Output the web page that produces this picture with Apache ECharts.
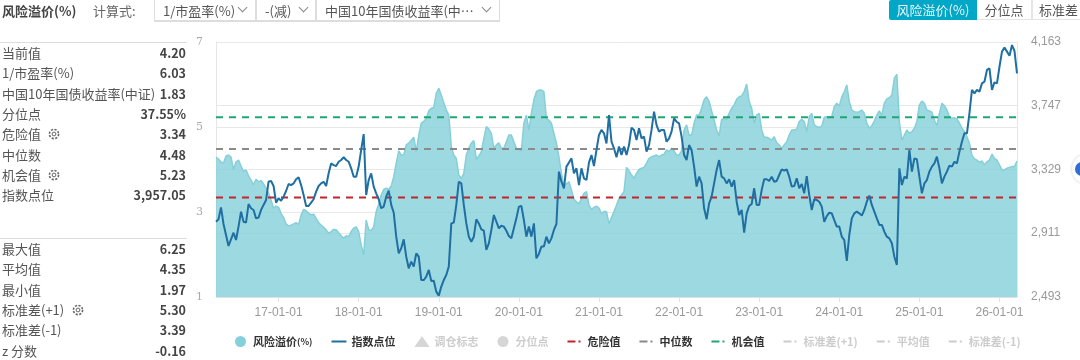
<!DOCTYPE html>
<html lang="zh">
<head>
<meta charset="utf-8">
<title>风险溢价(%)</title>
<script src="https://cdn.jsdelivr.net/npm/echarts@6/dist/echarts.min.js"></script>
<style>
  html, body { margin: 0; padding: 0; background: #fff; }
  body { position: relative; width: 1080px; height: 360px; overflow: hidden;
         font-family: "Noto Sans CJK SC", "Noto Sans", sans-serif; color: #555; }
  #chart { position: absolute; left: 0; top: 0; width: 1080px; height: 360px; }
  .abs { position: absolute; white-space: nowrap; }
  .title { left: 2px; top: 1px; font-size: 13px; line-height: 20px; font-weight: 700; color: #444; }
  .calc { left: 93px; top: 1px; font-size: 13px; line-height: 20px; color: #666; }
  .select { top: -2px; height: 24px; line-height: 24px; box-sizing: border-box; font-size: 13px; color: #555;
            border: 1px solid #ddd; border-top: 0; border-bottom: 2px solid #ddd; padding: 1px 0 0 8px; }
  .select i { position: absolute; top: 6px; width: 6px; height: 6px; border-right: 1px solid #888; border-bottom: 1px solid #888;
              transform: rotate(45deg); }
  .tab { top: 0; height: 20px; line-height: 19px; font-size: 13px; text-align: center; box-sizing: border-box; color: #555;
         border-bottom: 1px solid #e5e5e5; border-right: 1px solid #e5e5e5; }
  .tab.on { background: #00a7c6; color: #eaf8fb; border: 0; border-radius: 2px 0 0 2px; }
  .rule { left: 0; width: 187px; height: 1px; background: #ddd; }
  .row { left: 2px; width: 184px; height: 20px; line-height: 20px; font-size: 13px; color: #555; }
  .row b { position: absolute; right: 0; top: 0; font-weight: 700; color: #444; font-size: 12.5px; }
  .row svg { position: absolute; top: 4px; }
  .float { left: 1072px; top: 154px; width: 30px; height: 30px; border-radius: 50%; background: #fff;
           box-shadow: 0 0 3px #ccc; }
  .float span { position: absolute; left: 3px; top: 8px; width: 14px; height: 14px; border-radius: 50%; background: #2f6fd0; }
</style>
</head>
<body>
<div id="chart"></div>

<div class="abs title">风险溢价(%)</div>
<div class="abs calc">计算式:</div>
<div class="abs select" style="left:154px;width:102px">1/市盈率(%)<i style="left:84px"></i></div>
<div class="abs select" style="left:256px;width:60px">-(减)<i style="left:43px"></i></div>
<div class="abs select" style="left:316px;width:184px">中国10年国债收益率(中…<i style="left:166px"></i></div>
<div class="abs tab on" style="left:889px;width:88px">风险溢价(%)</div>
<div class="abs tab" style="left:977px;width:55px">分位点</div>
<div class="abs tab" style="left:1032px;width:52px;border-left:1px solid #e5e5e5;border-right:0">标准差</div>

<div class="abs rule" style="top:42px"></div>
<div class="abs rule" style="top:238px"></div>
<div id="stats"></div>
<div class="abs float"><span></span></div>

<script>
// x axis: one slot per sampled point, tick labels sit on the slots below
const tickIndex = [25, 57, 89, 121, 153, 185, 217, 249, 281, 313];
const tickLabels = ['17-01-01', '18-01-01', '19-01-01', '20-01-01', '21-01-01', '22-01-01', '23-01-01', '24-01-01', '25-01-01', '26-01-01'];
const leftTicks = [1, 3, 5, 7];
const rightTicks = [2493, 2911, 3329, 3747, 4163];

const premium = [
  4.29,4.24,4.18,4.15,4.32,4.34,4.29,4.00,4.18,4.22,4.08,3.95,3.99,3.85,3.75,3.64,3.77,3.71,3.74,3.66,
  3.56,3.44,3.28,3.09,3.14,3.11,2.97,2.87,2.72,2.67,2.69,2.72,2.75,2.70,2.93,3.06,3.03,2.97,2.93,2.95,
  2.85,2.75,2.69,2.64,2.58,2.50,2.54,2.59,2.58,2.51,2.44,2.38,2.44,2.42,2.54,2.62,2.65,2.54,2.22,1.99,
  2.81,2.59,2.56,2.65,3.01,3.19,3.40,3.53,3.56,3.53,3.61,3.83,4.15,4.44,4.34,4.34,4.58,4.62,4.69,4.76,
  4.42,4.81,5.09,5.13,5.20,5.38,5.44,5.46,5.79,5.91,5.75,5.57,5.40,5.28,4.54,4.34,4.26,3.87,3.79,3.91,
  4.34,4.50,4.62,4.68,4.24,4.32,4.42,4.73,5.01,4.95,4.85,4.50,4.58,4.63,4.50,4.50,4.65,4.81,4.81,4.65,
  4.50,4.47,4.44,5.09,5.28,4.93,5.32,5.64,5.83,5.87,5.87,5.83,5.20,5.16,5.09,4.85,4.62,4.30,3.91,3.60,
  3.67,3.71,3.52,3.30,3.24,3.19,3.32,3.44,3.48,3.16,3.06,3.11,3.14,3.09,2.97,3.01,3.01,2.72,2.87,3.01,
  3.16,3.32,3.40,3.48,4.05,3.97,3.87,3.79,3.91,4.00,4.03,4.05,4.15,4.26,4.30,4.32,4.34,4.30,4.34,4.36,
  4.46,4.42,4.50,4.44,4.34,4.34,4.44,4.93,5.05,4.81,4.81,5.09,5.28,5.28,5.44,5.64,5.71,5.60,5.38,5.16,
  4.93,4.79,5.18,5.20,5.18,5.32,5.44,5.52,5.65,5.71,5.73,5.83,6.01,5.60,5.44,5.09,5.28,5.32,4.93,4.76,
  4.76,4.73,4.69,4.77,4.63,4.58,4.50,4.58,4.65,4.81,4.93,4.93,4.95,5.13,5.18,5.13,4.89,5.24,5.32,5.05,
  5.01,4.99,5.02,5.23,5.24,5.24,5.24,5.48,5.56,5.49,5.71,5.83,5.99,5.60,5.40,5.36,5.35,5.36,5.40,5.32,
  5.09,4.97,5.03,5.14,5.28,5.38,5.28,5.56,5.66,5.69,5.75,6.15,6.24,5.13,4.69,4.81,4.93,4.85,4.89,4.97,
  5.13,5.52,5.61,5.56,5.40,5.38,5.35,5.16,5.03,5.32,5.56,5.50,5.40,5.24,5.20,5.22,5.19,5.09,4.98,4.89,
  4.77,4.62,4.34,4.25,4.22,4.17,4.20,4.11,4.18,4.22,4.36,4.26,4.22,4.11,3.99,3.99,4.03,4.05,4.07,4.07,
  4.20
];

const indexPoints = [
  2986,3002,3080,2971,2899,2827,2871,2914,2866,2954,3052,2986,2980,3102,3074,3063,3008,3013,3063,3096,
  3128,3248,3253,3220,3111,3139,3124,3150,3187,3233,3226,3237,3264,3277,3226,3161,3089,3089,3111,3133,
  3183,3220,3237,3248,3220,3303,3368,3357,3351,3379,3390,3408,3390,3379,3336,3281,3281,3347,3456,3560,
  3161,3259,3303,3216,3172,3133,3074,3085,3150,3189,3096,3045,2888,2779,2812,2871,2757,2681,2724,2692,
  2779,2757,2604,2604,2626,2670,2598,2600,2528,2502,2561,2604,2637,2692,2975,2980,3096,3248,3237,3096,
  2975,2888,2855,2888,3002,2975,2936,2927,2801,2844,2932,3030,2986,2943,2960,2954,2927,2892,2877,2943,
  3008,3085,3089,2997,2888,2954,2888,2975,2746,2775,2823,2823,2888,2844,2877,2932,2971,3314,3248,3205,
  3347,3373,3401,3303,3336,3226,3336,3270,3259,3373,3423,3351,3456,3554,3587,3565,3499,3685,3510,3467,
  3408,3478,3423,3478,3423,3488,3602,3587,3521,3598,3532,3543,3445,3488,3587,3707,3619,3576,3587,3587,
  3510,3532,3576,3663,3641,3630,3543,3423,3390,3488,3456,3347,3216,3281,3237,3074,3002,3106,3150,3237,
  3325,3390,3281,3270,3237,3264,3216,3259,3117,3030,3063,2914,3041,3089,3102,3205,3096,3096,3194,3264,
  3264,3253,3281,3248,3253,3292,3329,3320,3329,3281,3216,3220,3270,3205,3233,3172,3285,3161,3063,3133,
  3128,3117,3085,2986,3023,3045,3041,2997,2954,2954,2888,2866,2729,2899,3008,3041,3052,3041,3026,3063,
  3117,3157,3096,3052,3008,2965,2965,2921,2888,2877,2845,2757,2703,3336,3226,3281,3270,3456,3314,3401,
  3395,3281,3172,3237,3259,3314,3347,3368,3412,3336,3237,3281,3314,3353,3347,3379,3368,3445,3510,3565,
  3565,3696,3849,3827,3849,3838,3892,3903,3980,3991,3849,3899,3892,4001,4100,4126,4100,4073,4143,4104,
  3957.05
];

const dangerValue = 3.34;
const medianValue = 4.48;
const chanceValue = 5.23;
const stdUpperValue = 5.30;
const meanValue = 4.35;
const stdLowerValue = 3.39;

const statsTop = [
  ['当前值', '4.20'], ['1/市盈率(%)', '6.03'], ['中国10年国债收益率(中证)', '1.83'], ['分位点', '37.55%'],
  ['危险值', '3.34', 48], ['中位数', '4.48'], ['机会值', '5.23', 48], ['指数点位', '3,957.05'],
];
const statsBottom = [
  ['最大值', '6.25'], ['平均值', '4.35'], ['最小值', '1.97'], ['标准差(+1)', '5.30', 72], ['标准差(-1)', '3.39'], ['z 分数', '-0.16'],
];

const gear = '<circle cx="6" cy="6" r="4.6" fill="none" stroke="#666" stroke-width="1.6" stroke-dasharray="2.2 1.4"/><circle cx="6" cy="6" r="1.9" fill="none" stroke="#666"/>';
function addRows(rows, top) {
  const host = document.getElementById('stats');
  rows.forEach(function (r, i) {
    const el = document.createElement('div');
    el.className = 'abs row';
    el.style.top = (top + i * 20.3) + 'px';
    el.textContent = r[0];
    const b = document.createElement('b');
    b.textContent = r[1];
    el.appendChild(b);
    if (r[2]) {
      el.insertAdjacentHTML('beforeend', '<svg width="12" height="12" style="left:' + (r[2] - 2) + 'px">' + gear + '</svg>');
    }
    host.appendChild(el);
  });
}
addRows(statsTop, 43);
addRows(statsBottom, 239);

// legend icons for the line series; the zero-length corner segments pin the
// path's bounding box to the 15x11 legend slot so it is not stretched
const ICON_SOLID = 'path://M0 0L0 0M15 11L15 11M0 4.5H15V6.5H0Z';
const ICON_DASH = 'path://M0 0L0 0M15 11L15 11M0 4.5H8V6.5H0ZM11 4.5H13V6.5H11Z';

const categories = premium.map(function (_, i) { return String(i); });
const isTick = function (i) { return tickIndex.indexOf(i) >= 0; };
const refLine = function (name, value, color) {
  return {
    name: name, type: 'line', yAxisIndex: 0, symbol: 'none', silent: true, z: 4,
    data: categories.map(function () { return value; }),
    itemStyle: { color: color },
    lineStyle: { color: color, width: 2, type: [7, 6] },
  };
};

const chart = echarts.init(document.getElementById('chart'));
chart.setOption({
  animation: false,
  backgroundColor: 'transparent',
  textStyle: { fontFamily: '"Noto Sans CJK SC", sans-serif' },
  grid: { left: 216, right: 63, top: 42, height: 255 },
  legend: {
    left: 235, top: 336, padding: 0, itemWidth: 15, itemHeight: 11, itemGap: 19,
    inactiveColor: '#ccc',
    // the (%) is set smaller than the rest of the legend text
    formatter: function (name) { return name === '风险溢价(%)' ? '风险溢价{s|(%)}' : name; },
    textStyle: {
      color: '#333', fontSize: 11, fontWeight: 'bold', fontFamily: '"Noto Sans CJK SC", sans-serif',
      rich: { s: { fontSize: 9, color: '#333', fontWeight: 'bold' } },
    },
    selected: { '调仓标志': false, '分位点': false, '标准差(+1)': false, '平均值': false, '标准差(-1)': false },
    data: [
      { name: '风险溢价(%)', icon: 'circle' }, { name: '指数点位', icon: ICON_SOLID },
      { name: '调仓标志', icon: 'triangle' }, { name: '分位点', icon: 'circle' },
      { name: '危险值', icon: ICON_DASH }, { name: '中位数', icon: ICON_DASH }, { name: '机会值', icon: ICON_DASH },
      { name: '标准差(+1)', icon: ICON_DASH }, { name: '平均值', icon: ICON_DASH }, { name: '标准差(-1)', icon: ICON_DASH },
    ],
  },
  xAxis: {
    type: 'category', data: categories, boundaryGap: false,
    axisLine: { lineStyle: { color: '#e2e2e2' } },
    axisTick: { interval: isTick, alignWithLabel: true, length: 5, lineStyle: { color: '#e2e2e2' } },
    axisLabel: {
      interval: isTick, color: '#999', fontSize: 12, margin: 10, fontFamily: '"Liberation Sans", sans-serif',
      formatter: function (v, i) { return tickLabels[tickIndex.indexOf(i)]; },
    },
  },
  yAxis: [
    {
      type: 'value', min: 1, max: 7, interval: 2, position: 'left',
      axisLine: { show: true, lineStyle: { color: '#e6e6e6' } }, axisTick: { show: false },
      axisLabel: { color: '#aaa', fontSize: 11, margin: 13, fontFamily: '"DejaVu Serif", serif', customValues: leftTicks },
      splitLine: { lineStyle: { color: '#e8e8e8' } },
    },
    {
      type: 'value', min: 2493, max: 4163, position: 'right',
      axisLine: { show: true, lineStyle: { color: '#dfe8f0' } },
      axisTick: { show: false, customValues: rightTicks },
      axisLabel: {
        color: '#999', fontSize: 12, margin: 14, fontFamily: '"Liberation Sans", sans-serif', customValues: rightTicks,
        formatter: function (v) { return v.toLocaleString('en-US'); },
      },
      splitLine: { lineStyle: { color: '#e8e8e8' } },
    },
  ],
  series: [
    {
      name: '风险溢价(%)', type: 'line', yAxisIndex: 0, data: premium, symbol: 'none', silent: true, z: 2,
      itemStyle: { color: '#85d0da' },
      lineStyle: { color: '#85cfd9', width: 1.5 },
      areaStyle: { color: '#85d0da', opacity: 0.8 },
    },
    {
      name: '指数点位', type: 'line', yAxisIndex: 1, data: indexPoints, symbol: 'none', silent: true, z: 5,
      itemStyle: { color: '#1f6fa3' },
      lineStyle: { color: '#1f6fa3', width: 2 },
    },
    { name: '调仓标志', type: 'scatter', data: [], symbol: 'triangle', itemStyle: { color: '#999' } },
    { name: '分位点', type: 'scatter', data: [], itemStyle: { color: '#999' } },
    refLine('危险值', dangerValue, '#c0272d'),
    refLine('中位数', medianValue, '#8a8a8a'),
    refLine('机会值', chanceValue, '#1fa672'),
    refLine('标准差(+1)', stdUpperValue, '#bbb'),
    refLine('平均值', meanValue, '#bbb'),
    refLine('标准差(-1)', stdLowerValue, '#bbb'),
  ],
});
</script>
</body>
</html>
